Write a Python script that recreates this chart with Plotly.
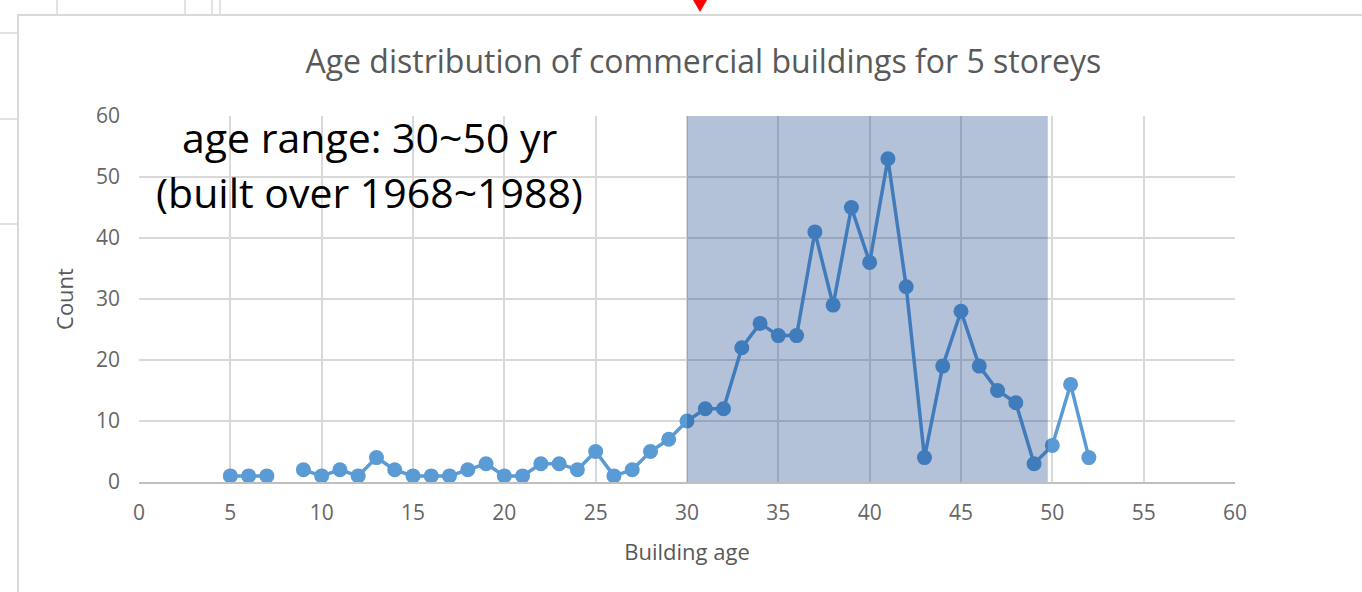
import plotly.graph_objects as go

# ---- data ----
ages = [5, 6, 7, 8, 9, 10, 11, 12, 13, 14, 15, 16, 17, 18, 19, 20, 21, 22, 23, 24, 25, 26,
        27, 28, 29, 30, 31, 32, 33, 34, 35, 36, 37, 38, 39, 40, 41, 42, 43, 44, 45, 46,
        47, 48, 49, 50, 51, 52]
counts = [1, 1, 1, None, 2, 1, 2, 1, 4, 2, 1, 1, 1, 2, 3, 1, 1, 3, 3, 2, 5, 1,
          2, 5, 7, 10, 12, 12, 22, 26, 24, 24, 41, 29, 45, 36, 53, 32, 4, 19, 28, 19,
          15, 13, 3, 6, 16, 4]
highlight_range = [30, 49.75]
title_text = "Age distribution of commercial buildings for 5 storeys"
note_lines = ["age range: 30~50 yr", "(built over 1968~1988)"]

W, H = 1362, 592
ML, MR, MT, MB = 139, 127, 116, 110
PW, PH = W - ML - MR, H - MT - MB


def px(x):
    return (x - ML) / PW


def py(y):
    return (H - MB - y) / PH


fig = go.Figure()
fig.add_trace(go.Scatter(
    x=ages, y=counts, mode="lines+markers",
    line=dict(color="#5B9BD5", width=3.5),
    marker=dict(color="#5B9BD5", size=15),
    connectgaps=False, hoverinfo="x+y", showlegend=False,
))

grey = "#D9D9D9"
shapes = []
# highlighted age range (drawn above, semi-transparent)
shapes.append(dict(type="rect", xref="x", yref="y", x0=highlight_range[0], x1=highlight_range[1],
                   y0=0, y1=60, fillcolor="rgba(2,52,128,0.3)", line=dict(width=0), layer="above"))
# chart frame
shapes.append(dict(type="rect", xref="paper", yref="paper", x0=px(18), x1=px(1380),
                   y0=py(15), y1=py(610), line=dict(color=grey, width=2), fillcolor="rgba(0,0,0,0)",
                   layer="below"))
# spreadsheet cell lines outside the chart
for xv in [57, 185, 212, 220]:
    shapes.append(dict(type="line", xref="paper", yref="paper", x0=px(xv), x1=px(xv),
                       y0=py(0), y1=py(15), line=dict(color=grey, width=1.5)))
for yv in [33, 119, 224]:
    shapes.append(dict(type="line", xref="paper", yref="paper", x0=px(0), x1=px(18),
                       y0=py(yv), y1=py(yv), line=dict(color=grey, width=1.5)))
# red marker triangle
shapes.append(dict(type="path", xref="paper", yref="paper",
                   path=f"M {px(693)} {py(0)} L {px(707)} {py(0)} L {px(700)} {py(12)} Z",
                   fillcolor="#FF0000", line=dict(width=0)))

fig.update_layout(
    width=W, height=H,
    margin=dict(l=ML, r=MR, t=MT, b=MB),
    paper_bgcolor="white", plot_bgcolor="white",
    font=dict(family="Open Sans", color="#595959"),
    title=dict(text=title_text, x=px(705), xanchor="center", y=1 - 62 / H, yanchor="middle",
               font=dict(size=32, color="#595959", family="Open Sans")),
    shapes=shapes,
    xaxis=dict(range=[0, 60], dtick=5, tick0=0, showgrid=True, gridcolor=grey, gridwidth=2,
               showline=True, linecolor="#BFBFBF", linewidth=2, zeroline=False,
               ticks="", ticklabelstandoff=11, tickfont=dict(size=21, color="#666666"),
               title=dict(text="Building age", font=dict(size=22, color="#595959"), standoff=19),
               mirror=False),
    yaxis=dict(range=[0, 60], dtick=10, tick0=0, showgrid=True, gridcolor=grey, gridwidth=2,
               showline=False, zeroline=False, ticks="", ticklabelstandoff=18,
               tickfont=dict(size=21, color="#666666"),
               title=dict(text="Count", font=dict(size=22, color="#595959"), standoff=16)),
    annotations=[
        dict(text=note_lines[0], xref="paper", yref="paper", x=px(370), y=py(137),
             showarrow=False, font=dict(size=41, color="black", family="Open Sans"),
             xanchor="center", yanchor="middle"),
        dict(text=note_lines[1], xref="paper", yref="paper", x=px(369), y=py(192),
             showarrow=False, font=dict(size=41, color="black", family="Open Sans"),
             xanchor="center", yanchor="middle"),
    ],
)

fig.write_html("out.html", config={"displayModeBar": False},
               post_script="document.body.style.margin='0';")
